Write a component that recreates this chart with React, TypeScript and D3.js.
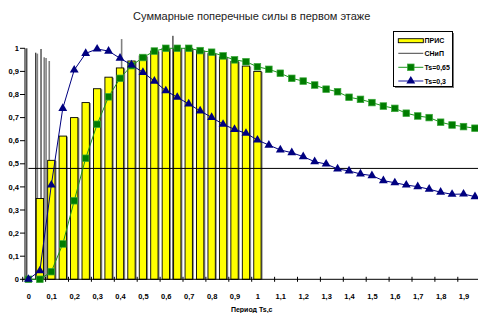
import React, { useEffect, useRef } from 'react';
import * as d3 from 'd3';

// Period values (categories), step 0.05 s
const periods = [
  0, 0.05, 0.1, 0.15, 0.2, 0.25, 0.3, 0.35, 0.4, 0.45,
  0.5, 0.55, 0.6, 0.65, 0.7, 0.75, 0.8, 0.85, 0.9, 0.95,
  1.0, 1.05, 1.1, 1.15, 1.2, 1.25, 1.3, 1.35, 1.4, 1.45,
  1.5, 1.55, 1.6, 1.65, 1.7, 1.75, 1.8, 1.85, 1.9, 1.95,
];

const xTickLabels = [
  '0', '0,1', '0,2', '0,3', '0,4', '0,5', '0,6', '0,7', '0,8', '0,9',
  '1', '1,1', '1,2', '1,3', '1,4', '1,5', '1,6', '1,7', '1,8', '1,9',
];

const yTicks = [0, 0.1, 0.2, 0.3, 0.4, 0.5, 0.6, 0.7, 0.8, 0.9, 1];

// ПРИС (bars), periods 0 .. 1.0
const prisValues = [
  0, 0.35, 0.515, 0.62, 0.7, 0.765, 0.825, 0.875, 0.915, 0.945,
  0.967, 0.988, 1.0, 1.0, 1.0, 0.99, 0.977, 0.962, 0.943, 0.923, 0.9,
];

// Ts=0,65 (green squares)
const ts065Values = [
  0, 0, 0.033, 0.153, 0.34, 0.524, 0.671, 0.79, 0.87, 0.925,
  0.96, 0.988, 1.0, 1.0, 1.0, 0.99, 0.983, 0.967, 0.95, 0.942,
  0.92, 0.909, 0.892, 0.87, 0.858, 0.841, 0.823, 0.812, 0.788, 0.779,
  0.765, 0.75, 0.74, 0.719, 0.707, 0.7, 0.68, 0.668, 0.661, 0.654,
];

// Ts=0,3 (blue triangles)
const ts03Values = [
  0, 0.037, 0.408, 0.74, 0.906, 0.978, 0.997, 0.988, 0.957, 0.928,
  0.896, 0.858, 0.816, 0.788, 0.759, 0.729, 0.701, 0.671, 0.649, 0.632,
  0.603, 0.581, 0.56, 0.548, 0.531, 0.509, 0.499, 0.478, 0.469, 0.456,
  0.449, 0.427, 0.418, 0.408, 0.401, 0.39, 0.377, 0.368, 0.369, 0.358,
];

// СНиП level and its vertical spikes [period, value]
const snipLevel = 0.48;
const snipSpikesDark: [number, number][] = [
  [-0.007, 1.0], [0.032, 0.981], [0.055, 0.997], [0.631, 1.054],
];
const snipSpikesGray: [number, number][] = [
  [0.039, 0.977], [0.069, 0.961], [0.077, 0.958], [0.091, 0.945], [0.407, 1.04],
];

const legendItems = ['ПРИС', 'СНиП', 'Ts=0,65', 'Ts=0,3'];

const W = 478;
const H = 313;

const App: React.FC = () => {
  const svgRef = useRef<SVGSVGElement>(null);

  useEffect(() => {
    if (!svgRef.current) return;
    const svg = d3.select(svgRef.current);
    svg.selectAll('*').remove();

    const left = 22.7;
    const step = 11.45;
    const axisX = 25;

    const x = d3
      .scaleBand<number>()
      .domain(d3.range(periods.length))
      .range([left, left + step * periods.length]);
    const bw = x.bandwidth();
    const cx = (i: number) => (x(i) || 0) + bw / 2;

    const t = d3
      .scaleLinear()
      .domain([periods[0], periods[periods.length - 1]])
      .range([cx(0), cx(periods.length - 1)]);

    const y = d3.scaleLinear().domain([0, 1]).range([279.3, 48.3]);

    const font = 'Liberation Sans, Arial, sans-serif';

    // Title
    svg
      .append('text')
      .attr('x', 251.7)
      .attr('y', 20)
      .attr('text-anchor', 'middle')
      .style('font-family', font)
      .style('font-size', '11px')
      .style('fill', '#222')
      .text('Суммарные поперечные силы в первом этаже');

    // СНиП spikes (behind bars)
    const spikes = svg.append('g');
    snipSpikesGray.forEach(([p, v]) => {
      spikes
        .append('line')
        .attr('x1', t(p)).attr('x2', t(p))
        .attr('y1', y(0)).attr('y2', y(v))
        .attr('stroke', '#808080').attr('stroke-width', 1.6);
    });
    snipSpikesDark.forEach(([p, v]) => {
      spikes
        .append('line')
        .attr('x1', t(p)).attr('x2', t(p))
        .attr('y1', y(0)).attr('y2', y(v))
        .attr('stroke', '#000').attr('stroke-width', 1);
    });

    // ПРИС bars
    const barW = bw * 0.64;
    const bars = svg.append('g');
    prisValues.forEach((v, i) => {
      if (v <= 0) return;
      const bx = cx(i) - barW / 2;
      bars
        .append('rect')
        .attr('x', bx + 1.5)
        .attr('y', y(v) + 0.5)
        .attr('width', barW)
        .attr('height', y(0) - y(v) - 0.5)
        .attr('fill', '#888');
      bars
        .append('rect')
        .attr('x', bx)
        .attr('y', y(v))
        .attr('width', barW)
        .attr('height', y(0) - y(v))
        .attr('fill', '#ffff00')
        .attr('stroke', '#000')
        .attr('stroke-width', 0.9);
    });

    // Axes
    svg
      .append('line')
      .attr('x1', axisX).attr('x2', axisX)
      .attr('y1', y(0)).attr('y2', y(1))
      .attr('stroke', '#000');
    yTicks.forEach(v => {
      svg
        .append('line')
        .attr('x1', axisX - 5).attr('x2', axisX)
        .attr('y1', y(v)).attr('y2', y(v))
        .attr('stroke', '#000');
      svg
        .append('text')
        .attr('x', 19)
        .attr('y', y(v) + 2.6)
        .attr('text-anchor', 'end')
        .style('font-family', font)
        .style('font-size', '7.5px')
        .style('font-weight', 'bold')
        .text(String(v).replace('.', ','));
    });

    svg
      .append('line')
      .attr('x1', left).attr('x2', W)
      .attr('y1', y(0)).attr('y2', y(0))
      .attr('stroke', '#000');
    xTickLabels.forEach((lab, j) => {
      const tx = x(j * 2) || 0;
      svg
        .append('line')
        .attr('x1', tx).attr('x2', tx)
        .attr('y1', y(0) - 2.5).attr('y2', y(0) + 2.5)
        .attr('stroke', '#000');
      svg
        .append('text')
        .attr('x', cx(j * 2) + 0.5)
        .attr('y', 298.5)
        .attr('text-anchor', 'middle')
        .style('font-family', font)
        .style('font-size', '7.5px')
        .style('font-weight', 'bold')
        .text(lab);
    });

    svg
      .append('text')
      .attr('x', 251.7)
      .attr('y', 312)
      .attr('text-anchor', 'middle')
      .style('font-family', font)
      .style('font-size', '7px')
      .style('font-weight', 'bold')
      .text('Период Ts,c');

    // СНиП level line
    svg
      .append('line')
      .attr('x1', cx(0)).attr('x2', W)
      .attr('y1', y(snipLevel)).attr('y2', y(snipLevel))
      .attr('stroke', '#000').attr('stroke-width', 1);

    // Ts=0,65
    const line = d3
      .line<number>()
      .x((_, i) => cx(i))
      .y(d => y(d));

    svg
      .append('path')
      .datum(ts065Values)
      .attr('d', line)
      .attr('fill', 'none')
      .attr('stroke', '#1c961c')
      .attr('stroke-width', 1);
    svg
      .append('g')
      .selectAll('rect')
      .data(ts065Values)
      .join('rect')
      .attr('x', (_, i) => cx(i) - 3.3)
      .attr('y', d => y(d) - 3.3)
      .attr('width', 6.6)
      .attr('height', 6.6)
      .attr('fill', '#007c00')
      .attr('stroke', '#3aa83a')
      .attr('stroke-width', 0.7);

    // Ts=0,3
    svg
      .append('path')
      .datum(ts03Values)
      .attr('d', line)
      .attr('fill', 'none')
      .attr('stroke', '#000080')
      .attr('stroke-width', 1);
    const tri = d3.symbol().type(d3.symbolTriangle).size(34);
    svg
      .append('g')
      .selectAll('path')
      .data(ts03Values)
      .join('path')
      .attr('transform', (d, i) => `translate(${cx(i)},${y(d)})`)
      .attr('d', tri)
      .attr('fill', '#000080');

    // Legend
    const lg = svg.append('g');
    lg.append('rect')
      .attr('x', 395).attr('y', 33)
      .attr('width', 59).attr('height', 55)
      .attr('fill', '#777');
    lg.append('rect')
      .attr('x', 393.5).attr('y', 31.5)
      .attr('width', 59).attr('height', 55)
      .attr('fill', '#fff')
      .attr('stroke', '#000')
      .attr('stroke-width', 1);

    const rows = [40.7, 53.3, 67.3, 81];
    const sx1 = 398.3;
    const sx2 = 423.3;
    const smid = (sx1 + sx2) / 2;

    lg.append('rect')
      .attr('x', sx1).attr('y', rows[0] - 2)
      .attr('width', sx2 - sx1).attr('height', 4)
      .attr('fill', '#ffff00').attr('stroke', '#000').attr('stroke-width', 0.9);
    lg.append('line')
      .attr('x1', sx1).attr('x2', sx2)
      .attr('y1', rows[1]).attr('y2', rows[1])
      .attr('stroke', '#444').attr('stroke-width', 1);
    lg.append('line')
      .attr('x1', sx1).attr('x2', sx2)
      .attr('y1', rows[2]).attr('y2', rows[2])
      .attr('stroke', '#1c961c').attr('stroke-width', 1);
    lg.append('rect')
      .attr('x', smid - 3.3).attr('y', rows[2] - 3.3)
      .attr('width', 6.6).attr('height', 6.6)
      .attr('fill', '#007c00').attr('stroke', '#3aa83a').attr('stroke-width', 0.7);
    lg.append('line')
      .attr('x1', sx1).attr('x2', sx2)
      .attr('y1', rows[3]).attr('y2', rows[3])
      .attr('stroke', '#8c8cd0').attr('stroke-width', 2);
    lg.append('path')
      .attr('transform', `translate(${smid},${rows[3]})`)
      .attr('d', tri)
      .attr('fill', '#000080');

    legendItems.forEach((name, i) => {
      lg.append('text')
        .attr('x', 424.5)
        .attr('y', rows[i] + 2.5)
        .style('font-family', font)
        .style('font-size', '7px')
        .style('font-weight', 'bold')
        .text(name);
    });
  }, []);

  return (
    <svg
      ref={svgRef}
      width={W}
      height={H}
      style={{ position: 'absolute', left: 0, top: 0, background: '#fff' }}
    />
  );
};

export default App;
